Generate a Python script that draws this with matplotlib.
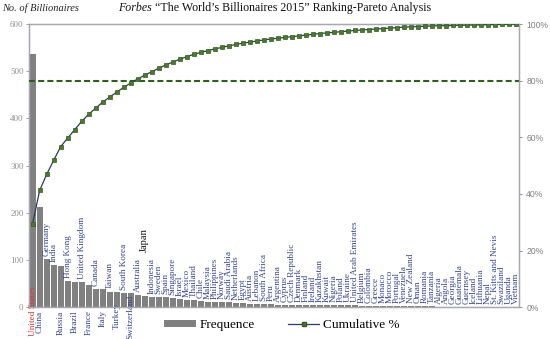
import matplotlib
matplotlib.use('Agg')
import matplotlib.pyplot as plt
import numpy as np
from matplotlib.patches import Patch
from matplotlib.lines import Line2D
from matplotlib.ticker import PercentFormatter

# Forbes 2015 billionaires per country
countries = ['United States', 'China', 'Germany', 'India', 'Russia', 'Hong Kong', 'Brazil',
             'United Kingdom', 'France', 'Canada', 'Italy', 'Taiwan', 'Turkey', 'South Korea',
             'Switzerland', 'Australia', 'Japan', 'Indonesia', 'Sweden', 'Spain', 'Singapore',
             'Israel', 'Mexico', 'Thailand', 'Chile', 'Malaysia', 'Philippines', 'Norway',
             'Saudi Arabia', 'Netherlands', 'Egypt', 'Austria', 'Lebanon', 'South Africa', 'Peru',
             'Argentina', 'Cyprus', 'Czech Republic', 'Denmark', 'Finland', 'Ireland', 'Kazakhstan',
             'Kuwait', 'Nigeria', 'Poland', 'Ukraine', 'United Arab Emirates', 'Belgium',
             'Colombia', 'Greece', 'Monaco', 'Morocco', 'Portugal', 'Venezuela', 'New Zealand',
             'Oman', 'Romania', 'Tanzania', 'Algeria', 'Angola', 'Georgia', 'Guatemala',
             'Guernsey', 'Iceland', 'Lithuania', 'Nepal', 'St. Kitts and Nevis', 'Swaziland',
             'Uganda', 'Vietnam']
counts = [536, 213, 103, 90, 88, 55, 54,
          53, 46, 39, 39, 32, 32, 30,
          29, 26, 24, 22, 22, 21, 19,
          18, 16, 16, 12, 11, 11, 10,
          10, 9, 8, 7, 7, 7, 6,
          5, 5, 5, 5, 5, 5, 5,
          4, 4, 4, 4, 4, 3,
          3, 3, 3, 3, 3, 3, 2,
          2, 2, 2, 1, 1, 1, 1,
          1, 1, 1, 1, 1, 1,
          1, 1]

# labels written below the axis, with their vertical centre offset (pixels)
below_labels = {'United States': -4, 'China': -15, 'Russia': -16, 'Brazil': -15,
                'France': -15, 'Italy': -11, 'Turkey': -9, 'Switzerland': -10}

serif = ['Liberation Serif', 'DejaVu Serif']
navy = '#34428c'

cum = np.cumsum(counts) / np.sum(counts)
x = np.arange(len(countries))

fig = plt.figure(figsize=(5.5, 3.39), dpi=100)
ax = fig.add_axes([0.053, 0.094, 0.891, 0.835])
ax2 = ax.twinx()

ax.bar(x, counts, width=0.86, color='#808080', zorder=2)
ax.set_xlim(-0.5, len(countries) - 0.5)
ax.set_ylim(0, 600)
ax.set_yticks(range(0, 601, 100))
ax.set_xticks([])
ax.tick_params(axis='y', labelsize=6.5, colors='#909090', length=2, width=0.6, pad=2)
for lab in ax.get_yticklabels():
    lab.set_family(serif)

for sp in ['left', 'right', 'top', 'bottom']:
    ax.spines[sp].set_color('#a6a6b4')
    ax.spines[sp].set_linewidth(0.9)
    ax2.spines[sp].set_color('#a6a6b4')
    ax2.spines[sp].set_linewidth(0.9)

for i, (name, c) in enumerate(zip(countries, counts)):
    if name in below_labels:
        col = '#e03030' if name == 'United States' else navy
        ax.annotate(name, (i, 0), xytext=(0, below_labels[name]), textcoords='offset pixels',
                    rotation=90, ha='center', va='center', fontsize=6.6, color=col,
                    family=serif, annotation_clip=False, zorder=5)
    elif name == 'Japan':
        ax.annotate(name, (i, c), xytext=(0, 44), textcoords='offset pixels',
                    rotation=90, ha='center', va='bottom', fontsize=7.6, color='#111111',
                    family=serif, zorder=5)
    else:
        ax.annotate(name, (i, c), xytext=(0, 3), textcoords='offset pixels',
                    rotation=90, ha='center', va='bottom', fontsize=6.6, color=navy,
                    family=serif, zorder=5)

ax2.plot(x, cum, color='#2b3a66', lw=0.9, marker='s', ms=3.3,
         mfc='#4a7a2a', mec='#36591f', mew=0.5, zorder=4)
ax2.axhline(0.8, color='#2f5e1e', lw=1.5, dashes=(2.9, 1.5), zorder=3)
ax2.set_ylim(0, 1)
ax2.set_yticks(np.arange(0, 1.01, 0.2))
ax2.yaxis.set_major_formatter(PercentFormatter(1.0, decimals=0))
ax2.tick_params(axis='y', labelsize=6.2, colors='#808080', length=2, width=0.6, pad=3)
for lab in ax2.get_yticklabels():
    lab.set_family(['Liberation Sans', 'DejaVu Sans'])

fig.text(2 / 550, 1 - 8 / 339, 'No. of Billionaires', fontsize=7.5, style='italic',
         family=serif, color='#222222', ha='left', va='center')
fig.text(152 / 550, 1 - 8 / 339, 'Forbes', fontsize=8.6, style='italic',
         family=serif, color='#111111', ha='right', va='center')
fig.text(155 / 550, 1 - 8 / 339, '\u201cThe World\u2019s Billionaires 2015\u201d Ranking-Pareto Analysis',
         fontsize=8.6, family=serif, color='#111111', ha='left', va='center')

handles = [Patch(facecolor='#808080', edgecolor='none', label='Frequence'),
           Line2D([0], [0], color='#2b3a66', lw=0.9, marker='s', ms=3.3,
                  mfc='#4a7a2a', mec='#36591f', label='Cumulative %')]
fig.legend(handles=handles, loc='center', bbox_to_anchor=(282 / 550, 1 - 325 / 339),
           ncol=2, frameon=False, prop={'family': serif, 'size': 9.5},
           handlelength=2.4, handleheight=0.45, handletextpad=0.3, columnspacing=2.5)

fig.savefig('out.png', dpi=100)
